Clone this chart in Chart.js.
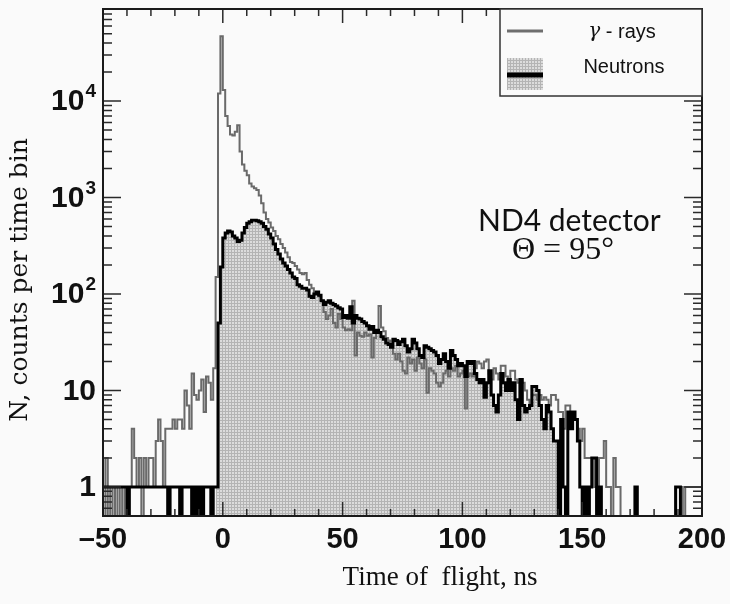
<!DOCTYPE html>
<html>
<head>
<meta charset="utf-8">
<script src="https://cdn.jsdelivr.net/npm/chart.js@4.4.1/dist/chart.umd.min.js"></script>
<style>
  html, body { margin: 0; padding: 0; background: #fafafa; }
</style>
</head>
<body>
<canvas id="tof" width="730" height="604"></canvas>
<script>
// ND4 detector, time of flight spectra, 1 ns bins from -50 ns to 200 ns
const binStart = -50
const binWidth = 1

const seriesLabels = ['γ - rays', 'Neutrons']

// counts per bin, bin [-50,-49) first
const gammaCounts = [
  1, 0, 2, 0, 1, 0, 1, 0, 1, 0,              // -50
  1, 1, 1, 4, 2, 1, 2, 0, 2, 1,              // -40
  2, 2, 1, 3, 5, 3, 1, 4, 4, 4,              // -30
  5, 4, 5, 5, 4, 10, 7, 4, 15, 9,            // -20
  8, 10, 13, 6, 14, 12, 8, 17, 150, 12000,   // -10
  47000, 13000, 7000, 5500, 4500, 4400, 4800, 5600, 3000, 2200, // 0
  1900, 1700, 1400, 1300, 1250, 1200, 1050, 870, 700, 600,      // 10
  550, 490, 450, 400, 370, 330, 300, 270, 240, 215,             // 20
  210, 195, 180, 165, 160, 165, 140, 125, 115, 105,             // 30
  100, 95, 85, 65, 55, 60, 70, 50, 45, 62,   // 40
  55, 45, 42, 43, 42, 85, 23, 40, 37, 36,    // 50
  40, 37, 38, 22, 35, 42, 75, 45, 41, 35,    // 60
  33, 29, 24, 21, 24, 20, 16, 15, 22, 19,    // 70
  21, 16, 22, 19, 17, 21, 9.5, 17, 16, 15,   // 80
  12, 11, 12, 15, 16, 14, 17, 16, 18, 14,    // 90
  15, 16, 6.5, 14, 15, 14, 17, 20, 19, 17,   // 100
  20, 21, 15, 13, 17, 15, 13, 18, 18, 14,    // 110
  12, 16, 16, 13, 12, 12, 12, 10, 8, 7,      // 120
  9, 9, 8, 9, 8, 8.5, 8, 7, 9, 9,            // 130
  8, 6, 6, 4, 7, 7, 6, 5, 5, 4,              // 140
  3, 4, 2, 2, 2, 2, 1, 1, 2, 2,              // 150
  3, 1, 1, 0, 2, 1, 1, 0, 0, 0,              // 160
  0, 0, 0, 0, 0, 0, 0, 0, 0, 0,              // 170
  0, 0, 0, 0, 0, 0, 0, 0, 0, 0,              // 180
  1, 1, 1, 0, 1, 1, 1, 1, 1, 1               // 190
]

const neutronCounts = [
  1, 1, 1, 1, 1, 1, 1, 1, 1, 1,              // -50
  1, 0, 1, 1, 1, 1, 1, 1, 1, 1,              // -40
  1, 1, 1, 1, 1, 1, 1, 1, 0, 1,              // -30
  1, 1, 1, 0, 1, 1, 1, 1, 0, 1,              // -20
  0, 1, 0, 1, 1, 1, 0, 1, 1, 50,             // -10
  190, 380, 430, 450, 440, 400, 380, 350, 360, 430, // 0
  490, 540, 560, 580, 580, 575, 560, 540, 500, 470, // 10
  420, 380, 330, 290, 260, 230, 210, 195, 180, 165, // 20
  150, 145, 125, 120, 115, 115, 110, 95, 92, 100,   // 30
  105, 97, 85, 78, 82, 85, 80, 78, 75, 72,   // 40
  70, 57, 60, 56, 74, 50, 60, 56, 55, 52,    // 50
  50, 47, 43, 46, 40, 42, 40, 36, 34, 31,    // 60
  30, 28, 34, 33, 30, 32, 34, 29, 25, 27,    // 70
  34, 31, 27, 23, 22, 29, 28, 27, 26, 25,    // 80
  23, 19, 21, 24, 20, 17, 26, 23, 21, 18,    // 90
  19, 18, 14, 20, 19, 20, 15, 13, 12, 13,    // 100
  8.5, 12, 16, 9, 7, 6, 9, 15, 12, 10,       // 110
  13, 10, 12, 8, 5, 13, 7, 6, 6.5, 7,        // 120
  11, 11, 10, 7, 5, 4, 7, 6, 4, 3,           // 130
  3, 0, 5, 1, 0, 6, 4, 6, 5, 3,              // 140
  1, 0, 1, 0, 1, 2, 2, 0, 1, 0,              // 150
  0, 0, 0, 0, 0, 0, 0, 0, 0, 0,              // 160
  0, 0, 0, 1, 0, 0, 0, 0, 0, 0,              // 170
  0, 0, 0, 0, 0, 0, 0, 0, 0, 0,              // 180
  1, 1, 0, 0, 0, 0, 0, 0, 0, 0               // 190
]

const xTicks = [-50, 0, 50, 100, 150, 200]
const xTickLabels = ['–50', '0', '50', '100', '150', '200']
const yTicks = [1, 10, 100, 1000, 10000]
const yTickBase = ['1', '10', '10', '10', '10']
const yTickExp = ['', '', '2', '3', '4']

const xTitle = 'Time of  flight, ns'
const yTitle = 'N, counts per time bin'
const noteLines = ['ND4 detector', 'Θ = 95°']

// empty bins sit below the axis minimum so the step drops to the frame
const EMPTY = 0.01

function histPoints(counts, from = 0, to = counts.length) {
  const pts = []
  for (let i = from; i < to; i++) {
    pts.push({ x: binStart + i * binWidth, y: counts[i] > 0 ? counts[i] : EMPTY })
  }
  pts.push({ x: binStart + to * binWidth, y: pts[pts.length - 1].y })
  return pts
}

// the shaded neutron area covers the non-empty run around the maximum
function filledRun(counts) {
  let peak = counts.indexOf(Math.max(...counts))
  let lo = peak, hi = peak
  while (lo > 0 && counts[lo - 1] > 0) lo--
  while (hi < counts.length - 1 && counts[hi + 1] > 0) hi++
  return [lo, hi + 1]
}

function dotPattern() {
  const c = document.createElement('canvas')
  c.width = 3
  c.height = 3
  const g = c.getContext('2d')
  g.fillStyle = '#dcdcdc'
  g.fillRect(0, 0, 3, 3)
  g.fillStyle = '#b4b4b4'
  g.fillRect(0, 0, 3, 1)
  g.fillRect(0, 0, 1, 3)
  return g.createPattern(c, 'repeat')
}

const shade = dotPattern()
const [runLo, runHi] = filledRun(neutronCounts)

const rootFrame = {
  id: 'rootFrame',
  beforeDraw(chart) {
    const { ctx, width, height } = chart
    ctx.save()
    ctx.fillStyle = '#fafafa'
    ctx.fillRect(0, 0, width, height)
    ctx.restore()
  },
  afterDatasetsDraw(chart) {
    const { ctx, chartArea: a, scales: { x, y } } = chart
    ctx.save()

    // ticks pointing inwards on all four sides
    ctx.strokeStyle = '#2a2a2a'
    ctx.lineWidth = 1.5
    ctx.beginPath()
    for (let v = -50; v <= 200; v += 10) {
      const px = x.getPixelForValue(v)
      const len = v % 50 === 0 ? 14 : 7
      ctx.moveTo(px, a.bottom); ctx.lineTo(px, a.bottom - len)
      ctx.moveTo(px, a.top); ctx.lineTo(px, a.top + len)
    }
    for (let k = -1; k <= 4; k++) {
      for (let d = 1; d <= 9; d++) {
        const v = d * Math.pow(10, k)
        if (v <= y.min || v >= y.max) continue
        const py = y.getPixelForValue(v)
        const len = d === 1 ? 18 : 9
        ctx.moveTo(a.left, py); ctx.lineTo(a.left + len, py)
        ctx.moveTo(a.right, py); ctx.lineTo(a.right - len, py)
      }
    }
    ctx.stroke()

    // frame
    ctx.strokeStyle = '#1a1a1a'
    ctx.lineWidth = 2
    ctx.strokeRect(a.left, a.top, a.right - a.left, a.bottom - a.top)

    // legend box
    const lx = a.right - 202, ly = a.top, lw = 202, lh = 87
    ctx.fillStyle = '#fafafa'
    ctx.fillRect(lx, ly, lw, lh)
    ctx.strokeStyle = '#333'
    ctx.lineWidth = 1.5
    ctx.strokeRect(lx, ly, lw, lh)
    ctx.strokeStyle = '#6e6e6e'
    ctx.lineWidth = 3
    ctx.beginPath()
    ctx.moveTo(lx + 7, ly + 22); ctx.lineTo(lx + 43, ly + 22)
    ctx.stroke()
    ctx.fillStyle = shade
    ctx.fillRect(lx + 7, ly + 49, 36, 32)
    ctx.strokeStyle = '#000'
    ctx.lineWidth = 5
    ctx.beginPath()
    ctx.moveTo(lx + 7, ly + 66); ctx.lineTo(lx + 43, ly + 66)
    ctx.stroke()

    ctx.fillStyle = '#111'
    ctx.textBaseline = 'middle'
    ctx.textAlign = 'left'
    const greek = seriesLabels[0].slice(0, 1)
    const rest = seriesLabels[0].slice(1)
    ctx.font = 'italic 20px "DejaVu Serif"'
    const gw = ctx.measureText(greek).width
    ctx.font = '20px "Liberation Sans"'
    const rw = ctx.measureText(rest).width
    let tx = lx + 122 - (gw + rw) / 2
    ctx.font = 'italic 20px "DejaVu Serif"'
    ctx.fillText(greek, tx, ly + 23)
    ctx.font = '20px "Liberation Sans"'
    ctx.fillText(rest, tx + gw, ly + 23)
    ctx.textAlign = 'center'
    ctx.fillText(seriesLabels[1], lx + 124, ly + 58)

    // x tick labels
    ctx.font = 'bold 29px "Liberation Sans"'
    ctx.textAlign = 'center'
    ctx.textBaseline = 'middle'
    xTicks.forEach((v, i) => {
      ctx.fillText(xTickLabels[i], x.getPixelForValue(v), a.bottom + 24)
    })

    // y tick labels, with exponents
    ctx.textAlign = 'left'
    yTicks.forEach((v, i) => {
      const py = y.getPixelForValue(v) + 1
      ctx.font = 'bold 19px "Liberation Sans"'
      const ew = yTickExp[i] ? ctx.measureText(yTickExp[i]).width + 1 : 0
      ctx.font = 'bold 30px "Liberation Sans"'
      const bw = ctx.measureText(yTickBase[i]).width
      const right = a.left - 7
      ctx.fillText(yTickBase[i], right - ew - bw, py)
      if (yTickExp[i]) {
        ctx.font = 'bold 19px "Liberation Sans"'
        ctx.fillText(yTickExp[i], right - ew + 1, py - 10)
      }
    })

    // axis titles
    ctx.font = '27px "Liberation Serif"'
    ctx.textAlign = 'center'
    ctx.fillText(xTitle, 440, 578)
    ctx.save()
    ctx.translate(20, 280)
    ctx.rotate(-Math.PI / 2)
    ctx.font = '25px "DejaVu Serif"'
    ctx.fillText(yTitle, 0, 0)
    ctx.restore()

    // detector note
    ctx.textAlign = 'left'
    ctx.font = '30px "Lato"'
    ctx.fillText(noteLines[0], 478, 221)
    ctx.font = '32px "Liberation Serif"'
    ctx.fillText(noteLines[1], 512, 251)

    ctx.restore()
  }
}

new Chart(document.getElementById('tof'), {
  type: 'line',
  data: {
    datasets: [
      {
        label: seriesLabels[1],
        data: histPoints(neutronCounts),
        stepped: 'after',
        borderColor: '#000',
        borderWidth: 3,
        borderJoinStyle: 'miter',
        pointRadius: 0,
        fill: false,
        order: 0,
      },
      {
        label: seriesLabels[0],
        data: histPoints(gammaCounts),
        stepped: 'after',
        borderColor: '#6a6a6a',
        borderWidth: 2,
        borderJoinStyle: 'miter',
        pointRadius: 0,
        fill: false,
        order: 1,
      },
      {
        label: 'neutron area',
        data: histPoints(neutronCounts, runLo, runHi),
        stepped: 'after',
        borderWidth: 0,
        pointRadius: 0,
        backgroundColor: shade,
        fill: 'start',
        order: 2,
      },
    ],
  },
  options: {
    responsive: false,
    devicePixelRatio: 1,
    animation: false,
    events: [],
    layout: { padding: { left: 103, right: 28, top: 9, bottom: 88 } },
    scales: {
      x: { type: 'linear', min: -50, max: 200, display: false },
      y: { type: 'logarithmic', min: 0.5, max: 90000, display: false },
    },
    plugins: {
      legend: { display: false },
      tooltip: { enabled: false },
    },
  },
  plugins: [rootFrame],
})
</script>
</body>
</html>
